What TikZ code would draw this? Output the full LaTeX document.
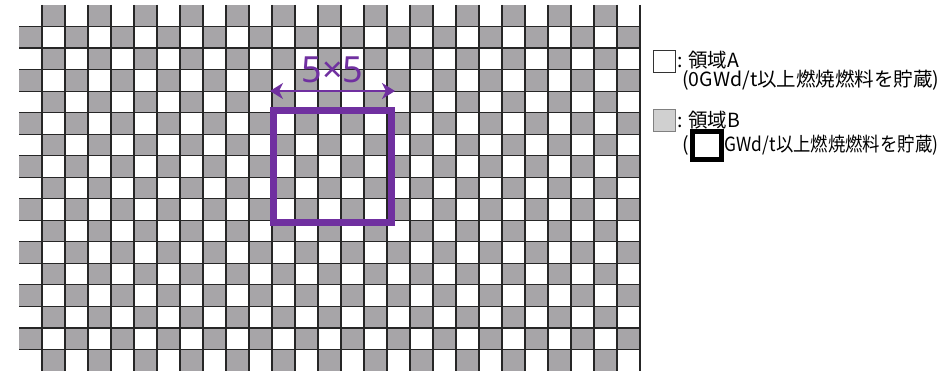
\documentclass[tikz,border=0pt]{standalone}
\usepackage{graphicx}
\usepackage{fontspec}
\setmainfont{Noto Sans CJK JP}
\newfontfamily\sizefont{Noto Sans}
\usetikzlibrary{
positioning,
arrows.meta
}
\definecolor{cellgray}{RGB}{167,165,168}
\definecolor{zonepurple}{RGB}{112,48,160}
\definecolor{keygray}{RGB}{208,208,208}
\tikzset{
gridline/.style={
draw=black!85,
line width=1.2pt
},
zonebox/.style={
draw=zonepurple,
line width=7pt,
minimum width=118pt,
minimum height=112pt,
inner sep=0pt
},
sizearrow/.style={
{Stealth[length=13pt,width=16pt,inset=4pt]}-{Stealth[length=13pt,width=16pt,inset=4pt]},
draw=zonepurple,
line width=2pt
},
sizelabel/.style={
text=zonepurple,
inner sep=0pt,
anchor=base,
font=\sizefont\fontsize{36}{42}\selectfont
},
keybox/.style={
draw=black!80,
minimum size=22pt,
inner sep=0pt
},
legendtext/.style={
inner sep=0pt,
anchor=base west,
font=\fontsize{19.5}{23}\selectfont
},
maskbox/.style={
draw=black,
fill=white,
line width=5pt,
minimum width=29pt,
minimum height=28pt,
inner sep=0pt
}
}

\begin{document}
\begin{tikzpicture}[x=1pt,y=-1pt]

\useasboundingbox[fill=white] (0,0) rectangle (939,371);

% checkerboard: 27 x 17 cells
\foreach \i in {0,...,16}{
  \foreach \j in {0,...,26}{
    \pgfmathtruncatemacro\odd{mod(\i+\j,2)}
    \ifnum\odd=1
      \fill[cellgray] (19+23*\j,5+21.53*\i) rectangle ++(23,21.53);
    \fi
  }
}
\foreach \j in {1,...,27}
  \draw[gridline] (19+23*\j,5) -- (19+23*\j,371);
\foreach \i in {1,...,16}
  \draw[gridline] (19,5+21.53*\i) -- (640,5+21.53*\i);

% 5x5 zone
\node[zonebox] (zone) at (332,166.5) {};
\coordinate (tipL) at (270,91);
\coordinate (tipR) at (395,91);
\draw[sizearrow] (tipL) -- (tipR);
\node[sizelabel] (size) at (332.5,83) {5×5};

% legend
\node[keybox, fill=white] (keyA) at (664.5,61) {};
\node[legendtext] (labelA) at (677,68) {: 領域A};
\node[legendtext] (noteA) at (682,87) {(0GWd/t以上燃焼燃料を貯蔵)};

\node[keybox, fill=keygray, draw=black!50] (keyB) at (664.5,120.5) {};
\node[legendtext] (labelB) at (677,128) {: 領域B};
\node[legendtext] (noteB) at (682,152) {(\hspace{36pt}\scalebox{0.89}[1]{GWd/t以上燃焼燃料を貯蔵)}};
\node[maskbox] (mask) at (707,145.5) {};

\end{tikzpicture}
\end{document}
